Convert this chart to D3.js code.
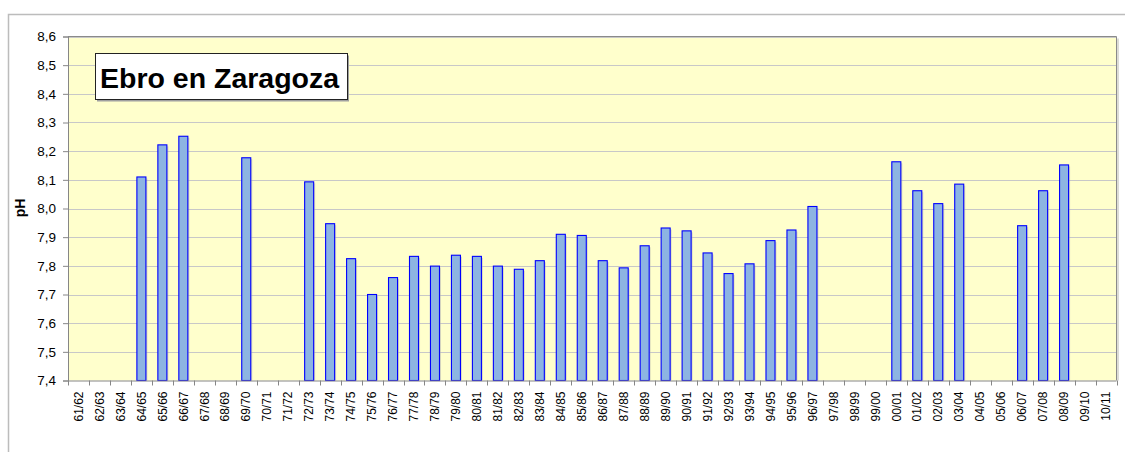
<!DOCTYPE html>
<html>
<head>
<meta charset="utf-8">
<script src="https://cdn.jsdelivr.net/npm/d3@7"></script>
<style>
  body { margin: 0; background: #fff; }
  svg { display: block; font-family: 'Liberation Sans', Arial, sans-serif; }
</style>
</head>
<body>
<svg width="1125" height="452"></svg>
<script>
// hydrological years
const years = ['61/62','62/63','63/64','64/65','65/66','66/67','67/68','68/69','69/70','70/71',
  '71/72','72/73','73/74','74/75','75/76','76/77','77/78','78/79','79/80','80/81',
  '81/82','82/83','83/84','84/85','85/86','86/87','87/88','88/89','89/90','90/91',
  '91/92','92/93','93/94','94/95','95/96','96/97','97/98','98/99','99/00','00/01',
  '01/02','02/03','03/04','04/05','05/06','06/07','07/08','08/09','09/10','10/11'];

// mean pH, null where there is no data
const ph = [null, null, null, 8.11, 8.222, 8.252, null, null, 8.177, null,
  null, 8.093, 7.947, 7.825, 7.70, 7.759, 7.833, 7.799, 7.837, 7.833,
  7.799, 7.788, 7.818, 7.910, 7.906, 7.818, 7.793, 7.870, 7.932, 7.922,
  7.845, 7.773, 7.807, 7.888, 7.925, 8.007, null, null, null, 8.163,
  8.062, 8.017, 8.085, null, null, 7.940, 8.062, 8.152, null, null];

const yTicks = [7.4, 7.5, 7.6, 7.7, 7.8, 7.9, 8.0, 8.1, 8.2, 8.3, 8.4, 8.5, 8.6];

const title = 'Ebro en Zaragoza';
const yTitle = 'pH';

const svg = d3.select('svg');

const plotL = 68, plotR = 1116.5, plotT = 36.5, plotB = 380.5;

const x = d3.scaleBand()
    .domain(years)
    .range([plotL, plotR])
    .padding(0);

const y = d3.scaleLinear()
    .domain([7.4, 8.6])
    .range([plotB, plotT]);

// outer chart frame
svg.append('path')
    .attr('d', `M8.5,452 V14.5 H1125`)
    .attr('fill', 'none')
    .attr('stroke', '#bcbcbc')
    .attr('stroke-width', 1.5);

// plot area
svg.append('rect')
    .attr('x', plotL).attr('y', plotT)
    .attr('width', plotR - plotL).attr('height', plotB - plotT)
    .attr('fill', '#ffffcc');

svg.append('g')
    .selectAll('line')
    .data(yTicks.slice(1))
    .join('line')
      .attr('x1', plotL).attr('x2', plotR)
      .attr('y1', d => Math.round(y(d)) + 0.5)
      .attr('y2', d => Math.round(y(d)) + 0.5)
      .attr('stroke', '#c8c8c8')
      .attr('stroke-width', 1.2);

// plot border top/right
svg.append('path')
    .attr('d', `M${plotL},${plotT} H${plotR} V${plotB}`)
    .attr('fill', 'none')
    .attr('stroke', '#8a8a8a')
    .attr('stroke-width', 1);
svg.append('line')
    .attr('x1', plotR + 1.5).attr('x2', plotR + 1.5)
    .attr('y1', plotT + 2).attr('y2', plotB)
    .attr('stroke', '#d0d0c8')
    .attr('stroke-width', 1.5);

// bars
const barW = x.bandwidth() * 0.43;
const data = years.map((c, i) => ({c, v: ph[i]})).filter(d => d.v != null);

svg.append('g')
    .selectAll('rect')
    .data(data)
    .join('rect')
      .attr('x', d => x(d.c) + (x.bandwidth() - barW) / 2 + 1.5)
      .attr('y', d => y(d.v) + 1.5)
      .attr('width', barW)
      .attr('height', d => plotB - y(d.v) - 1.5)
      .attr('fill', '#b8b8b0')
      .attr('opacity', 0.5);

svg.append('g')
    .selectAll('rect')
    .data(data)
    .join('rect')
      .attr('x', d => x(d.c) + (x.bandwidth() - barW) / 2)
      .attr('y', d => y(d.v))
      .attr('width', barW)
      .attr('height', d => plotB - y(d.v))
      .attr('fill', '#8db4e2')
      .attr('stroke', '#0000ff')
      .attr('stroke-width', 1.1);

// y axis
const yAxis = svg.append('g')
    .attr('transform', `translate(${plotL},0)`)
    .call(d3.axisLeft(y)
      .tickValues(yTicks)
      .tickSize(5)
      .tickPadding(7)
      .tickFormat(d => d.toFixed(1).replace('.', ',')));
yAxis.select('.domain').attr('stroke', '#868686');
yAxis.selectAll('.tick line').attr('stroke', '#868686');
yAxis.selectAll('.tick text')
    .attr('font-size', 13.5)
    .attr('font-family', "'Liberation Sans', Arial, sans-serif")
    .attr('fill', '#000');

// x axis
const xAxis = svg.append('g')
    .attr('transform', `translate(0,${plotB})`)
    .call(d3.axisBottom(x).tickSize(0).tickPadding(0));
xAxis.select('.domain').attr('stroke', '#868686').attr('d', `M${plotL},0.5H${plotR}`);
xAxis.selectAll('.tick text')
    .attr('font-size', 12)
    .attr('font-family', "'Liberation Sans', Arial, sans-serif")
    .attr('fill', '#000')
    .attr('text-anchor', 'end')
    .attr('dy', '0.35em')
    .attr('transform', 'translate(0,11) rotate(-90)');

svg.append('g')
    .selectAll('line')
    .data(years.concat(['end']))
    .join('line')
      .attr('x1', (d, i) => Math.round(plotL + i * x.step()) + 0.5)
      .attr('x2', (d, i) => Math.round(plotL + i * x.step()) + 0.5)
      .attr('y1', plotB)
      .attr('y2', plotB + 5)
      .attr('stroke', '#868686');

// axis title
svg.append('text')
    .attr('transform', `translate(25,208) rotate(-90)`)
    .attr('text-anchor', 'middle')
    .attr('font-weight', 'bold')
    .attr('font-size', 14)
    .text(yTitle);

// title box
svg.append('rect')
    .attr('x', 97).attr('y', 55.5)
    .attr('width', 252).attr('height', 46)
    .attr('fill', '#a0a0a0');
svg.append('rect')
    .attr('x', 95.5).attr('y', 53.5)
    .attr('width', 252).attr('height', 46)
    .attr('fill', '#fff')
    .attr('stroke', '#222')
    .attr('stroke-width', 1);
svg.append('text')
    .attr('x', 100)
    .attr('y', 87.5)
    .attr('font-weight', 'bold')
    .attr('font-size', 28.5)
    .text(title);
</script>
</body>
</html>
